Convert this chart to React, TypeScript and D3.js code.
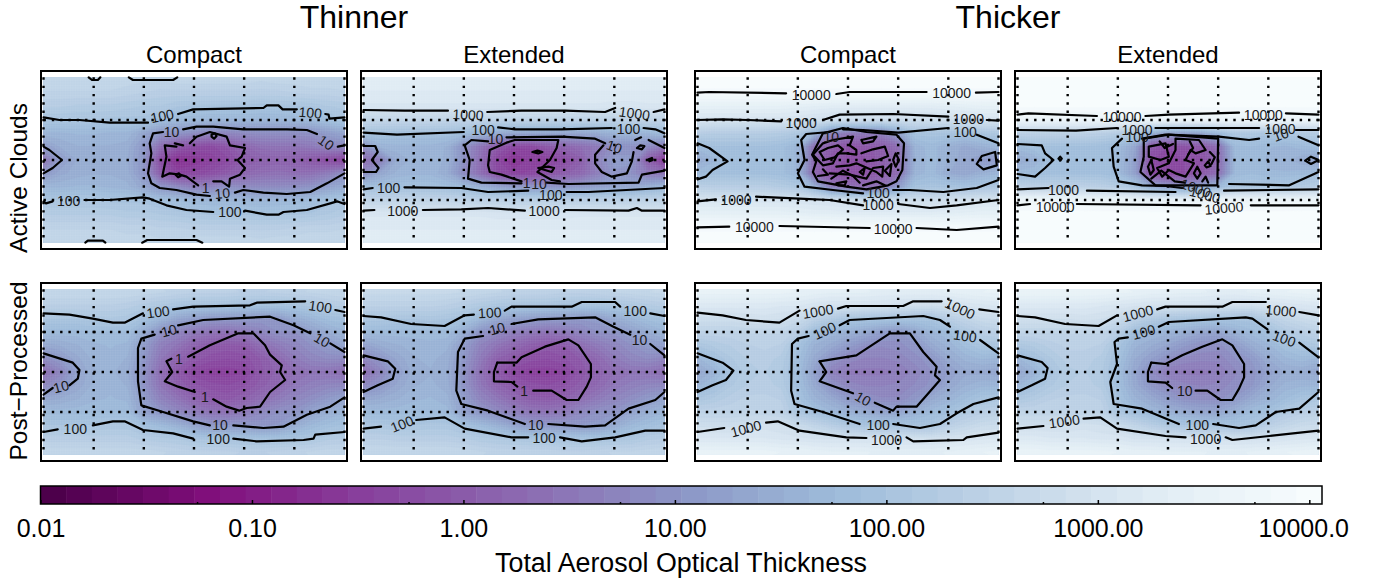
import React, { useEffect, useRef } from 'react';
import * as d3 from 'd3';

type Pt = [number, number];
type Lab = [string, number, number, number];

// grid of the maps, log10 of total aerosol optical thickness per cell
const lons = [-180, -160, -140, -120, -100, -80, -60, -40, -20, 0, 20, 40, 60, 80, 100, 120, 140, 160, 180];
const lats = [60, 50, 40, 30, 20, 10, 0, -10, -20, -30, -40, -50, -60];

const gridLons = [-180, -120, -60, 0, 60, 120, 180];
const gridLats = [30, 0, -30];

const groupTitles = ['Thinner', 'Thicker'];
const columnTitles = ['Compact', 'Extended', 'Compact', 'Extended'];
const rowTitles = ['Active Clouds', 'Post\u2212Processed'];

const rampColors = ['#4d004b', '#810f7c', '#88419d', '#8c6bb1', '#8c96c6', '#9ebcda', '#bfd3e6', '#e0ecf4', '#f7fcfd'];
const majorTicks = [0.01, 0.1, 1, 10, 100, 1000, 10000];
const majorLabels = ['0.01', '0.10', '1.00', '10.00', '100.00', '1000.00', '10000.0'];
const minorTicks = [0.055, 0.55, 5.5, 55, 550, 5500];

const fieldThinCompactActive = [
  [2.6, 2.6, 2.6, 2.6, 2.6, 2.55, 2.5, 2.5, 2.55, 2.55, 2.55, 2.55, 2.55, 2.5, 2.55, 2.55, 2.6, 2.6, 2.6],
  [2.45, 2.45, 2.45, 2.45, 2.45, 2.4, 2.35, 2.3, 2.3, 2.3, 2.3, 2.3, 2.3, 2.3, 2.3, 2.35, 2.4, 2.4, 2.45],
  [2.25, 2.25, 2.2, 2.2, 2.2, 2.15, 2.1, 2.1, 2.0, 1.95, 1.95, 1.95, 1.95, 1.9, 1.95, 1.95, 2.0, 2.1, 2.15],
  [2.0, 2.0, 2.0, 2.0, 1.95, 1.95, 1.95, 1.8, 1.7, 1.65, 1.6, 1.6, 1.6, 1.6, 1.6, 1.65, 1.7, 1.85, 2.0],
  [1.6, 1.6, 1.65, 1.65, 1.6, 1.6, 1.3, 1.0, 0.95, 0.85, 0.7, 0.7, 0.8, 0.85, 0.85, 0.85, 0.9, 1.1, 1.3],
  [1.1, 1.4, 1.5, 1.5, 1.5, 1.45, 1.05, 0.3, -0.1, -0.3, -0.35, -0.15, 0.15, 0.35, 0.4, 0.4, 0.5, 0.7, 0.8],
  [0.4, 1.1, 1.4, 1.45, 1.45, 1.4, 1.0, -0.3, -0.75, -0.65, -0.5, -0.35, -0.05, 0.05, 0.1, 0.05, -0.1, -0.3, -0.45],
  [1.0, 1.35, 1.45, 1.5, 1.5, 1.45, 1.0, 0.0, -0.45, -0.4, -0.25, -0.05, 0.15, 0.3, 0.35, 0.3, 0.35, 0.55, 0.9],
  [1.6, 1.6, 1.65, 1.65, 1.6, 1.55, 1.3, 1.0, 0.8, 0.6, 0.7, 0.9, 0.8, 0.8, 0.8, 0.85, 0.95, 1.2, 1.4],
  [2.0, 2.0, 2.0, 2.0, 1.95, 1.95, 1.95, 1.8, 1.75, 1.65, 1.6, 1.6, 1.6, 1.6, 1.6, 1.65, 1.75, 1.9, 2.0],
  [2.2, 2.2, 2.2, 2.2, 2.2, 2.15, 2.15, 2.1, 2.05, 2.0, 1.95, 1.95, 1.95, 1.9, 1.95, 1.95, 2.0, 2.1, 2.2],
  [2.45, 2.45, 2.45, 2.45, 2.45, 2.4, 2.4, 2.35, 2.35, 2.3, 2.3, 2.3, 2.3, 2.3, 2.3, 2.35, 2.4, 2.4, 2.45],
  [2.6, 2.6, 2.6, 2.6, 2.6, 2.55, 2.55, 2.5, 2.5, 2.55, 2.55, 2.55, 2.55, 2.5, 2.55, 2.55, 2.6, 2.6, 2.6],
];
const fieldThinExtendedActive = [
  [3.25, 3.25, 3.25, 3.25, 3.25, 3.25, 3.25, 3.25, 3.25, 3.25, 3.25, 3.25, 3.25, 3.25, 3.25, 3.25, 3.25, 3.25, 3.25],
  [3.2, 3.2, 3.2, 3.2, 3.2, 3.2, 3.2, 3.2, 3.2, 3.2, 3.2, 3.2, 3.2, 3.2, 3.2, 3.2, 3.2, 3.2, 3.2],
  [3.05, 3.05, 3.05, 3.05, 3.05, 3.05, 3.05, 3.05, 3.05, 3.05, 3.05, 3.05, 3.05, 3.05, 3.05, 3.0, 3.0, 3.05, 3.05],
  [2.55, 2.55, 2.55, 2.55, 2.55, 2.5, 2.5, 2.5, 2.45, 2.45, 2.45, 2.45, 2.45, 2.45, 2.45, 2.45, 2.45, 2.5, 2.5],
  [1.9, 1.9, 1.85, 1.85, 1.85, 1.85, 1.75, 1.55, 1.4, 1.3, 1.3, 1.3, 1.3, 1.3, 1.4, 1.55, 1.6, 1.6, 1.75],
  [0.9, 1.55, 1.6, 1.6, 1.6, 1.5, 0.9, 0.4, -0.1, -0.4, -0.4, -0.1, 0.1, 0.3, 0.5, 0.9, 0.9, 0.8, 0.5],
  [0.3, 0.6, 1.4, 1.55, 1.55, 1.5, 0.9, 0.3, -0.4, -0.7, -0.5, -0.45, -0.3, 0.0, 0.7, 1.1, 1.1, 0.0, -0.6],
  [0.8, 1.3, 1.55, 1.6, 1.6, 1.4, 0.8, 0.3, -0.3, -0.45, -0.4, -0.2, 0.0, 0.2, 0.6, 1.0, 0.9, 0.5, 0.4],
  [1.85, 1.85, 1.85, 1.85, 1.85, 1.8, 1.7, 1.5, 1.3, 1.1, 1.0, 1.0, 1.0, 1.1, 1.2, 1.3, 1.3, 1.5, 1.7],
  [2.5, 2.5, 2.5, 2.5, 2.5, 2.5, 2.45, 2.4, 2.4, 2.35, 2.35, 2.35, 2.35, 2.35, 2.35, 2.4, 2.4, 2.45, 2.5],
  [3.05, 3.05, 3.05, 3.05, 3.05, 3.05, 3.05, 3.05, 3.0, 3.0, 3.0, 3.0, 3.0, 3.05, 3.05, 3.05, 3.05, 3.05, 3.05],
  [3.2, 3.2, 3.2, 3.2, 3.2, 3.2, 3.2, 3.2, 3.2, 3.2, 3.2, 3.2, 3.2, 3.2, 3.2, 3.2, 3.2, 3.2, 3.2],
  [3.25, 3.25, 3.25, 3.25, 3.25, 3.25, 3.25, 3.25, 3.25, 3.25, 3.25, 3.25, 3.25, 3.25, 3.25, 3.25, 3.25, 3.25, 3.25],
];
const fieldThickCompactActive = [
  [4.0, 4.0, 4.0, 4.0, 4.0, 4.0, 4.0, 4.0, 4.0, 4.0, 4.0, 4.0, 4.0, 4.0, 4.0, 4.0, 4.0, 4.0, 4.0],
  [3.9, 3.9, 3.9, 3.9, 3.9, 3.9, 3.9, 3.9, 3.9, 3.9, 3.9, 3.9, 3.9, 3.9, 3.9, 3.9, 3.9, 3.9, 3.9],
  [3.4, 3.4, 3.4, 3.4, 3.4, 3.4, 3.35, 3.3, 3.25, 3.25, 3.25, 3.25, 3.25, 3.25, 3.25, 3.3, 3.35, 3.4, 3.4],
  [3.0, 3.0, 3.0, 3.0, 3.0, 3.0, 2.95, 2.9, 2.85, 2.8, 2.8, 2.8, 2.8, 2.8, 2.85, 2.85, 2.9, 3.0, 3.0],
  [2.3, 2.25, 2.25, 2.25, 2.25, 2.2, 2.1, 1.6, 0.7, 0.5, 0.5, 0.6, 1.2, 1.9, 1.95, 1.95, 1.9, 2.0, 2.1],
  [1.7, 1.85, 1.85, 1.85, 1.85, 1.8, 1.6, 0.3, 0.0, -0.2, -0.1, 0.0, 0.3, 1.55, 1.7, 1.5, 1.35, 1.5, 1.6],
  [1.4, 1.6, 1.85, 1.85, 1.85, 1.8, 1.6, 0.2, -0.1, -0.2, -0.2, 0.0, 0.3, 1.5, 1.7, 1.5, 1.3, 1.1, 1.1],
  [1.7, 1.85, 1.85, 1.85, 1.85, 1.8, 1.6, 0.2, -0.2, -0.3, -0.2, 0.0, 0.3, 1.55, 1.7, 1.4, 1.3, 1.5, 1.6],
  [2.35, 2.3, 2.3, 2.3, 2.3, 2.2, 2.1, 1.5, 0.6, 0.4, 0.3, 0.4, 1.1, 1.9, 1.95, 1.95, 1.9, 2.0, 2.1],
  [3.0, 3.0, 3.0, 3.0, 3.0, 3.0, 3.0, 2.95, 2.9, 2.85, 2.8, 2.8, 2.8, 2.8, 2.8, 2.85, 2.9, 3.0, 3.0],
  [3.4, 3.4, 3.4, 3.4, 3.4, 3.4, 3.35, 3.3, 3.3, 3.25, 3.25, 3.25, 3.25, 3.25, 3.25, 3.3, 3.35, 3.4, 3.4],
  [3.9, 3.9, 3.9, 3.9, 3.9, 3.9, 3.9, 3.9, 3.9, 3.9, 3.9, 3.9, 3.9, 3.9, 3.9, 3.9, 3.9, 3.9, 3.9],
  [4.0, 4.0, 4.0, 4.0, 4.0, 4.0, 4.0, 4.0, 4.0, 4.0, 4.0, 4.0, 4.0, 4.0, 4.0, 4.0, 4.0, 4.0, 4.0],
];
const fieldThickExtendedActive = [
  [4.0, 4.0, 4.0, 4.0, 4.0, 4.0, 4.0, 4.0, 4.0, 4.0, 4.0, 4.0, 4.0, 4.0, 4.0, 4.0, 4.0, 4.0, 4.0],
  [4.0, 4.0, 4.0, 4.0, 4.0, 4.0, 4.0, 4.0, 4.0, 4.0, 4.0, 4.0, 4.0, 4.0, 4.0, 4.0, 4.0, 4.0, 4.0],
  [3.95, 3.95, 3.95, 3.95, 3.95, 3.95, 3.95, 3.95, 3.95, 3.95, 3.95, 3.95, 3.95, 3.95, 3.95, 3.95, 3.95, 3.95, 3.95],
  [3.6, 3.6, 3.6, 3.6, 3.6, 3.6, 3.6, 3.6, 3.6, 3.6, 3.6, 3.6, 3.6, 3.6, 3.6, 3.6, 3.6, 3.6, 3.6],
  [2.4, 2.4, 2.4, 2.4, 2.4, 2.35, 2.25, 2.1, 1.5, 1.2, 1.2, 1.3, 1.7, 2.1, 2.1, 2.05, 2.05, 2.15, 2.25],
  [1.7, 1.85, 1.85, 1.85, 1.85, 1.8, 1.7, 1.3, -0.1, -0.3, -0.2, -0.1, 0.3, 1.7, 1.75, 1.65, 1.6, 1.7, 1.8],
  [1.4, 1.5, 1.85, 1.85, 1.85, 1.85, 1.7, 1.2, -0.3, -0.35, -0.3, -0.2, 0.2, 1.65, 1.75, 1.6, 1.55, 1.4, 1.2],
  [1.7, 1.75, 1.85, 1.85, 1.85, 1.85, 1.7, 1.2, -0.3, -0.4, -0.3, -0.1, 0.3, 1.65, 1.75, 1.65, 1.65, 1.7, 1.8],
  [2.4, 2.4, 2.4, 2.4, 2.4, 2.35, 2.25, 2.0, 1.4, 1.1, 1.1, 1.3, 1.7, 2.05, 2.05, 2.05, 2.05, 2.15, 2.3],
  [3.65, 3.65, 3.65, 3.65, 3.65, 3.6, 3.6, 3.55, 3.5, 3.5, 3.5, 3.55, 3.6, 3.6, 3.6, 3.6, 3.6, 3.65, 3.65],
  [4.0, 4.0, 4.0, 4.0, 4.0, 4.0, 4.0, 4.0, 4.0, 4.0, 4.0, 4.0, 4.0, 4.0, 4.0, 4.0, 4.0, 4.0, 4.0],
  [4.0, 4.0, 4.0, 4.0, 4.0, 4.0, 4.0, 4.0, 4.0, 4.0, 4.0, 4.0, 4.0, 4.0, 4.0, 4.0, 4.0, 4.0, 4.0],
  [4.0, 4.0, 4.0, 4.0, 4.0, 4.0, 4.0, 4.0, 4.0, 4.0, 4.0, 4.0, 4.0, 4.0, 4.0, 4.0, 4.0, 4.0, 4.0],
];
const fieldThinCompactPost = [
  [2.6, 2.6, 2.6, 2.6, 2.6, 2.6, 2.55, 2.5, 2.45, 2.4, 2.4, 2.4, 2.35, 2.35, 2.4, 2.45, 2.5, 2.55, 2.6],
  [2.35, 2.35, 2.35, 2.35, 2.35, 2.3, 2.2, 2.1, 2.0, 1.95, 1.95, 1.95, 1.9, 1.9, 1.9, 1.95, 2.05, 2.2, 2.3],
  [2.0, 2.0, 2.0, 2.05, 2.1, 2.05, 1.85, 1.6, 1.3, 1.15, 1.05, 1.05, 1.05, 1.0, 1.05, 1.4, 1.6, 1.8, 1.85],
  [1.7, 1.7, 1.7, 1.75, 1.75, 1.75, 1.4, 0.9, 0.7, 0.5, 0.4, 0.35, 0.5, 0.7, 0.9, 0.9, 1.2, 1.4, 1.6],
  [1.3, 1.4, 1.5, 1.6, 1.65, 1.6, 1.1, 0.6, 0.4, 0.1, -0.05, -0.1, -0.05, 0.3, 0.5, 0.7, 0.9, 1.1, 1.3],
  [0.8, 1.05, 1.35, 1.55, 1.6, 1.5, 1.0, 0.45, 0.1, -0.1, -0.25, -0.3, -0.25, -0.05, 0.2, 0.5, 0.7, 0.8, 0.8],
  [0.3, 0.7, 1.2, 1.5, 1.55, 1.4, 0.9, 0.3, -0.1, -0.4, -0.5, -0.5, -0.45, -0.1, 0.1, 0.3, 0.4, 0.4, 0.3],
  [0.75, 1.0, 1.3, 1.55, 1.6, 1.5, 0.95, 0.4, 0.05, -0.15, -0.25, -0.3, -0.2, 0.0, 0.2, 0.45, 0.6, 0.7, 0.75],
  [1.3, 1.4, 1.5, 1.6, 1.65, 1.6, 1.1, 0.65, 0.4, 0.1, -0.05, -0.1, 0.05, 0.3, 0.5, 0.7, 0.85, 1.05, 1.25],
  [1.7, 1.7, 1.7, 1.75, 1.75, 1.75, 1.2, 1.0, 0.75, 0.55, 0.4, 0.35, 0.5, 0.75, 0.9, 0.95, 1.25, 1.45, 1.6],
  [2.0, 2.0, 2.0, 2.0, 2.05, 2.05, 1.85, 1.7, 1.5, 1.25, 1.05, 1.05, 1.05, 1.0, 1.05, 1.4, 1.65, 1.8, 1.9],
  [2.3, 2.3, 2.3, 2.3, 2.3, 2.3, 2.2, 2.15, 2.1, 2.0, 1.95, 1.95, 1.9, 1.9, 1.9, 1.95, 2.05, 2.2, 2.25],
  [2.55, 2.55, 2.55, 2.55, 2.55, 2.55, 2.55, 2.5, 2.45, 2.4, 2.4, 2.4, 2.35, 2.35, 2.4, 2.45, 2.5, 2.55, 2.55],
];
const fieldThinExtendedPost = [
  [2.65, 2.65, 2.65, 2.65, 2.65, 2.65, 2.6, 2.55, 2.5, 2.45, 2.45, 2.45, 2.4, 2.4, 2.45, 2.5, 2.55, 2.6, 2.65],
  [2.4, 2.4, 2.4, 2.4, 2.4, 2.35, 2.25, 2.15, 2.05, 2.0, 2.0, 2.0, 1.95, 1.95, 1.95, 2.0, 2.1, 2.2, 2.3],
  [2.05, 2.05, 2.0, 2.0, 2.05, 2.0, 1.9, 1.65, 1.35, 1.2, 1.15, 1.1, 1.1, 1.05, 1.1, 1.4, 1.6, 1.8, 1.9],
  [1.7, 1.7, 1.7, 1.7, 1.7, 1.7, 1.45, 0.95, 0.75, 0.6, 0.5, 0.4, 0.5, 0.7, 0.9, 0.95, 1.2, 1.4, 1.6],
  [1.2, 1.4, 1.5, 1.55, 1.6, 1.55, 1.1, 0.65, 0.4, 0.2, 0.0, -0.1, -0.05, 0.3, 0.5, 0.7, 0.9, 1.1, 1.2],
  [0.7, 1.0, 1.3, 1.5, 1.55, 1.45, 1.0, 0.5, 0.05, -0.1, -0.25, -0.3, -0.2, -0.05, 0.2, 0.5, 0.7, 0.8, 0.7],
  [0.3, 0.7, 1.15, 1.45, 1.5, 1.4, 0.9, 0.35, -0.1, -0.4, -0.5, -0.5, -0.45, -0.15, 0.1, 0.3, 0.4, 0.4, 0.3],
  [0.75, 1.0, 1.3, 1.5, 1.55, 1.45, 0.95, 0.45, 0.1, -0.1, -0.25, -0.3, -0.2, 0.0, 0.2, 0.45, 0.6, 0.7, 0.75],
  [1.3, 1.4, 1.5, 1.6, 1.65, 1.55, 1.1, 0.7, 0.45, 0.2, 0.0, -0.05, 0.05, 0.3, 0.5, 0.7, 0.85, 1.05, 1.25],
  [1.7, 1.7, 1.7, 1.75, 1.75, 1.7, 1.2, 1.0, 0.8, 0.6, 0.45, 0.4, 0.5, 0.75, 0.9, 0.95, 1.25, 1.45, 1.6],
  [2.05, 2.05, 2.0, 2.0, 2.05, 2.05, 1.85, 1.7, 1.5, 1.25, 1.1, 1.05, 1.05, 1.05, 1.1, 1.4, 1.65, 1.8, 1.95],
  [2.35, 2.35, 2.3, 2.3, 2.3, 2.3, 2.25, 2.15, 2.1, 2.05, 2.0, 2.0, 1.95, 1.95, 1.95, 2.0, 2.05, 2.2, 2.25],
  [2.6, 2.6, 2.6, 2.6, 2.6, 2.6, 2.55, 2.5, 2.45, 2.45, 2.45, 2.45, 2.4, 2.4, 2.45, 2.5, 2.5, 2.55, 2.6],
];
const fieldThickCompactPost = [
  [3.5, 3.5, 3.5, 3.5, 3.5, 3.5, 3.45, 3.4, 3.35, 3.35, 3.35, 3.3, 3.3, 3.3, 3.3, 3.35, 3.4, 3.45, 3.5],
  [3.15, 3.15, 3.15, 3.15, 3.15, 3.1, 3.1, 3.0, 2.95, 2.95, 2.95, 2.95, 2.9, 2.85, 2.85, 2.9, 3.0, 3.05, 3.1],
  [2.8, 2.8, 2.8, 2.85, 2.9, 2.85, 2.7, 2.4, 2.2, 2.0, 1.95, 1.95, 1.95, 1.95, 1.95, 2.3, 2.5, 2.7, 2.75],
  [2.45, 2.45, 2.45, 2.5, 2.5, 2.5, 2.3, 1.75, 1.6, 1.5, 1.35, 1.15, 1.0, 1.3, 1.6, 1.75, 2.1, 2.3, 2.4],
  [2.0, 2.15, 2.25, 2.35, 2.4, 2.35, 1.9, 1.5, 1.35, 1.1, 0.9, 0.8, 0.85, 1.0, 1.35, 1.55, 1.8, 2.0, 2.05],
  [1.6, 1.85, 2.1, 2.25, 2.3, 2.2, 1.8, 1.35, 0.95, 0.75, 0.65, 0.65, 0.7, 0.85, 1.0, 1.35, 1.55, 1.65, 1.6],
  [1.3, 1.55, 1.95, 2.2, 2.25, 2.15, 1.75, 1.2, 0.65, 0.5, 0.5, 0.5, 0.55, 0.7, 0.9, 1.15, 1.35, 1.35, 1.3],
  [1.6, 1.8, 2.1, 2.25, 2.3, 2.2, 1.8, 1.35, 0.9, 0.75, 0.65, 0.65, 0.7, 0.8, 0.95, 1.3, 1.5, 1.6, 1.6],
  [2.0, 2.15, 2.3, 2.4, 2.4, 2.35, 1.9, 1.55, 1.35, 1.05, 0.9, 0.8, 0.8, 1.0, 1.35, 1.55, 1.75, 1.95, 2.05],
  [2.45, 2.45, 2.45, 2.5, 2.5, 2.45, 2.05, 1.85, 1.65, 1.5, 1.4, 1.25, 1.25, 1.5, 1.7, 1.85, 2.15, 2.3, 2.4],
  [2.8, 2.8, 2.8, 2.85, 2.9, 2.85, 2.7, 2.5, 2.3, 2.1, 1.95, 1.95, 1.95, 1.95, 2.0, 2.35, 2.55, 2.7, 2.75],
  [3.1, 3.1, 3.1, 3.1, 3.1, 3.05, 3.0, 2.95, 2.95, 2.95, 2.95, 2.95, 2.9, 2.9, 2.9, 2.95, 3.0, 3.05, 3.1],
  [3.5, 3.5, 3.5, 3.5, 3.5, 3.45, 3.45, 3.4, 3.35, 3.35, 3.35, 3.3, 3.3, 3.3, 3.3, 3.35, 3.4, 3.45, 3.5],
];
const fieldThickExtendedPost = [
  [3.55, 3.55, 3.55, 3.55, 3.55, 3.55, 3.5, 3.45, 3.4, 3.4, 3.35, 3.35, 3.3, 3.3, 3.35, 3.4, 3.45, 3.5, 3.55],
  [3.15, 3.15, 3.15, 3.15, 3.15, 3.1, 3.05, 3.0, 2.95, 2.95, 2.95, 2.95, 2.9, 2.85, 2.85, 2.95, 3.0, 3.05, 3.1],
  [2.85, 2.85, 2.85, 2.85, 2.9, 2.85, 2.7, 2.4, 2.2, 2.05, 2.0, 1.95, 1.95, 1.95, 1.95, 2.3, 2.55, 2.7, 2.8],
  [2.5, 2.5, 2.5, 2.5, 2.5, 2.5, 2.3, 1.8, 1.65, 1.55, 1.45, 1.3, 1.25, 1.5, 1.7, 1.85, 2.15, 2.3, 2.45],
  [2.05, 2.15, 2.3, 2.4, 2.4, 2.35, 1.95, 1.55, 1.4, 1.25, 1.05, 0.9, 0.85, 1.1, 1.4, 1.6, 1.85, 2.0, 2.1],
  [1.6, 1.85, 2.1, 2.3, 2.3, 2.2, 1.85, 1.4, 1.15, 0.9, 0.75, 0.7, 0.7, 0.9, 1.05, 1.4, 1.6, 1.7, 1.6],
  [1.3, 1.55, 1.95, 2.2, 2.25, 2.15, 1.75, 1.3, 0.8, 0.55, 0.5, 0.5, 0.55, 0.75, 0.95, 1.2, 1.4, 1.4, 1.3],
  [1.6, 1.85, 2.1, 2.25, 2.3, 2.2, 1.8, 1.35, 1.0, 0.8, 0.7, 0.65, 0.7, 0.85, 1.0, 1.35, 1.55, 1.6, 1.6],
  [2.05, 2.2, 2.35, 2.4, 2.4, 2.35, 1.9, 1.55, 1.35, 1.1, 0.9, 0.85, 0.85, 1.05, 1.35, 1.55, 1.75, 1.95, 2.05],
  [2.5, 2.5, 2.5, 2.5, 2.5, 2.45, 2.05, 1.85, 1.65, 1.5, 1.4, 1.3, 1.3, 1.5, 1.75, 1.85, 2.15, 2.3, 2.4],
  [2.85, 2.85, 2.85, 2.85, 2.9, 2.85, 2.7, 2.5, 2.3, 2.1, 2.0, 1.95, 1.95, 1.95, 2.0, 2.35, 2.55, 2.7, 2.75],
  [3.15, 3.15, 3.1, 3.1, 3.1, 3.05, 3.05, 2.95, 2.95, 2.95, 2.95, 2.95, 2.9, 2.9, 2.9, 2.95, 3.0, 3.05, 3.1],
  [3.55, 3.55, 3.5, 3.5, 3.5, 3.5, 3.45, 3.4, 3.4, 3.35, 3.35, 3.35, 3.3, 3.3, 3.35, 3.4, 3.45, 3.5, 3.55],
];

// isolines, [lon, lat], broken where the label sits
const linesThinCompactActive: Pt[][] = [
  [[-126, 62], [-122, 60], [-115, 60], [-112, 62]],
  [[-78, 62], [-73, 60], [-25, 60], [-20, 62]],
  [[-130, -62], [-127, -60.5], [-109, -60.5], [-106, -62]],
  [[-62, -62], [-56, -60], [3, -60], [10, -62]],
  [[-180, 32], [-161, 30], [-137, 30], [-101, 28], [-55, 28]],
  [[-19, 34.5], [-1, 38], [83, 39], [87, 41], [101, 41], [106, 38], [123, 38]],
  [[157, 34.5], [161, 34], [162, 31], [180, 32]],
  [[-180, -31], [-177, -32.5], [-169, -31]],
  [[-131, -30], [-101, -30], [-61, -28], [-53, -29], [-33, -34], [-9, -37.5], [23, -39]],
  [[61, -38], [87, -41], [101, -41], [107, -39], [135, -37.5], [163, -32.5], [171, -31], [180, -33]],
  [[-180, 10], [-173, 7.5], [-158, 0], [-169, -6], [-180, -10]],
  [[-37, 21], [-49, 20], [-53, 12.5], [-51, 5], [-55, -10], [-51, -17.5], [-41, -21], [-21, -22.5], [3, -26], [19, -27]],
  [[49, -24.5], [59, -22.5], [83, -24.5], [111, -25.5], [139, -24], [159, -17.5], [180, -10]],
  [[-13, 23], [3, 25], [23, 25], [59, 23], [111, 23], [135, 22.5], [147, 19.5]],
  [[172, 10], [180, 11]],
  [[-23, 12.5], [-13, 11]],
  [[-5, 12.5], [3, 17.5], [19, 21], [39, 17.5], [43, 11], [61, 9], [57, 2.5], [52, 0], [61, -6], [55, -11], [43, -14], [42, -20], [33, -16], [23, -16]],
  [[5, -19], [-9, -12.5], [-17, -11], [-29, -10], [-38, -12.5], [-33, 2.5], [-35, 11], [-21, 10]],
  [[21, 19], [25, 20], [27, 18], [24, 16], [21, 17.5], [21, 19]],
  [[-22, -11], [-18, -10], [-16, -12], [-19, -13], [-22, -11]],
];
const labelsThinCompactActive: Lab[] = [
  ['100', -38, 33, -12], ['100', 139, 35.5, 5], ['10', -27, 21, 0], ['10', 158, 13, 35],
  ['100', -150, -30.5, 0], ['1', 14, -21, 0], ['10', 34, -25, -5], ['100', 43, -39, 0],
];

const linesThinExtendedActive: Pt[][] = [
  [[-180, 37.5], [-131, 37], [-79, 37]],
  [[-32, 36], [9, 37], [61, 37], [109, 36], [121, 39]],
  [[167, 36], [180, 38]],
  [[-180, 20.5], [-140, 19], [-60, 21]],
  [[-19, 24.5], [1, 23], [57, 23], [117, 24]],
  [[155, 24], [169, 23], [180, 20]],
  [[-180, 10.5], [-166, 10.5], [-163, 6], [-170, 0], [-162, -6], [-165, -9], [-180, -9]],
  [[-31, 14], [-51, 15], [-59, 11], [-53, 0], [-55, -14], [-39, -17], [9, -17.5]],
  [[39, -17], [65, -18], [149, -17], [153, -11], [180, -8]],
  [[-9, 17], [57, 17.5], [97, 16], [109, 12.5]],
  [[161, 15], [180, 9]],
  [[107, 11], [97, 4], [97, -2.5], [105, -9], [117, -12.5], [135, -10], [141, -1], [143, 6]],
  [[147, 9], [151, 11], [156, 10.5], [153, 8], [147, 9]],
  [[145, 15], [152, 17]],
  [[161, 0.5], [165, 1.5], [166, 0], [162, -1], [161, 0.5]],
  [[1, 15], [53, 15], [51, 9], [43, 0], [28, -9], [45, -15], [55, -16]],
  [[1, 15], [-9, 13], [-29, 7.5], [-31, -4], [-29, -9], [-15, -11], [9, -16]],
  [[29, -6], [45, -9], [48, -6], [41, -5], [29, -6]],
  [[22, 6], [28, 7], [34, 6], [29, 5], [22, 6]],
  [[-180, -22], [-169, -21]],
  [[-131, -20.5], [-63, -21], [-31, -24], [17, -23]],
  [[63, -24], [89, -24], [180, -21]],
  [[-180, -38], [-167, -37.5]],
  [[-109, -37.5], [-63, -37], [-31, -36], [13, -38]],
  [[61, -37.5], [137, -38], [147, -36], [153, -38], [180, -38]],
];
const labelsThinExtendedActive: Lab[] = [
  ['1000', -55, 34, 3], ['1000', 144, 35, 8], ['100', -37, 22.5, 0], ['100', 137, 23, 0],
  ['10', -22, 16, 0], ['1', 15, -17, 0], ['10', 30, -18, 0], ['100', 44, -26, 0],
  ['10', 120, 10, 20], ['100', -150, -21, 0], ['1000', -133, -38, 0], ['1000', 36, -38, 0],
];

const linesThickCompactActive: Pt[][] = [
  [[-180, 50.5], [-166, 51], [-74, 50]],
  [[-14, 49.5], [2, 51], [94, 51]],
  [[153, 50.5], [180, 51]],
  [[-180, 30], [-150, 30.5], [-120, 30], [-80, 29]],
  [[-30, 30], [-10, 34], [54, 34.5], [120, 32.5]],
  [[166, 30], [180, 29.5]],
  [[-180, 12.5], [-166, 9], [-144, -1], [-162, -7.5], [-170, -12.5], [-180, -14.5]],
  [[-22, 21], [-50, 19.5], [-56, 15], [-52, 0], [-60, -10], [-52, -20], [-18, -22.5], [18, -25]],
  [[-6, 23], [18, 22.5], [60, 20.5], [120, 24]],
  [[154, 19], [180, 12.5]],
  [[54, -22.5], [74, -22.5], [114, -24], [154, -21], [180, -15]],
  [[-180, -31], [-158, -29.5]],
  [[-110, -27.5], [-58, -29], [-22, -30], [18, -34]],
  [[60, -33], [98, -36], [130, -34], [180, -30]],
  [[-180, -50.5], [-142, -50]],
  [[-82, -49.5], [26, -51]],
  [[82, -51], [130, -52.5], [180, -50]],
  [[-43, 4], [-36, 12.5], [-30, 20], [-6, 24], [22, 21], [58, 19], [67, 12.5], [65, -7.5], [58, -16], [48, -19], [22, -22], [-2, -20], [-36, -16], [-42, -9], [-38, -1], [-43, 4]],
  [[-30, 12.5], [-18, 15], [6, 17.5], [2, 11], [10, 7.5], [10, 4], [-2, 5], [-12, 5], [-18, -2.5], [-30, -4], [-42, 4], [-30, 12.5]],
  [[16, 15], [34, 17.5], [30, 14], [18, 12.5], [16, 15]],
  [[-22, -10], [2, -11], [22, -14], [30, -6], [42, -5], [41, -12.5], [34, -9], [10, -2.5], [2, -4], [-14, -5]],
  [[-14, -17.5], [-2, -16], [-4, -19], [-12, -19], [-14, -17.5]],
  [[18, -19], [34, -16], [44, -19]],
  [[14, -9], [20, -6], [18, -11], [14, -9]],
  [[54, 0], [57, 5], [61, 0], [57, -5], [54, 0]],
  [[154, -3], [160, 3], [176, 6], [178, -4], [162, -7], [154, -3]],
  [[-34, 6], [-24, 9], [-12, 11], [-6, 8], [-16, 2], [-28, 0], [-34, 6]],
  [[16, 5], [30, 8], [44, 10], [48, 3], [36, 0], [22, -1]],
  [[-20, -14], [-6, -8], [6, -12], [14, -17]],
  [[44, -8], [52, -3], [50, -12], [44, -8]],
  [[-30, -7], [-24, -11], [-36, -12]],
];
const labelsThickCompactActive: Lab[] = [
  ['10000', -44, 49, 0], ['10000', 124, 50.5, 0], ['1000', -56, 28, 0], ['1000', 144, 31, 0],
  ['10', -20, 17.5, 0], ['100', 140, 21, 0], ['100', 36, -24.5, 0], ['1000', -134, -30, 0],
  ['1000', 36, -34, 0], ['10000', -112, -50.5, 0], ['10000', 54, -52, 0],
];

const linesThickExtendedActive: Pt[][] = [
  [[-180, 34], [-167, 35], [-85, 33]],
  [[-27, 33], [1, 34], [85, 35.5]],
  [[141, 35], [180, 34]],
  [[-180, 22.5], [-110, 22], [-61, 24]],
  [[-15, 24], [109, 24]],
  [[153, 22.5], [180, 22.5]],
  [[-55, 16], [-67, 9], [-65, -5], [-59, -16], [-31, -19], [-3, -19.5], [17, -21]],
  [[-31, 16], [-3, 19], [61, 17.5], [97, 15], [109, 16]],
  [[73, -18], [145, -19], [180, -9]],
  [[156, 17.5], [180, 11]],
  [[-180, 12], [-151, 11], [-147, 5], [-137, 0], [-147, -6], [-159, -12.5], [-180, -10.5]],
  [[-131, 1], [-129, 2.5], [-127, 1], [-129, -0.5], [-131, 1]],
  [[-29, 16], [-29, 2.5], [-33, -9], [-15, -19], [59, -19], [60, 16], [1, 19], [-29, 16]],
  [[-23, 10], [-3, 12.5], [1, 2.5], [-9, 0], [-23, 2.5], [-23, 10]],
  [[-24, -5], [-20, 0], [-17, -7.5], [-21, -11], [-24, -5]],
  [[31, -10], [35, -5], [39, -10], [35, -14], [31, -10]],
  [[44, -4], [48, -1], [51, -4.5], [46, -5.5], [44, -4]],
  [[9, 16], [37, 15], [45, 7.5], [33, 5], [27, 7.5], [21, 0], [31, -2.5], [21, -12.5], [9, -10], [1, -7.5], [-7, -12.5], [-13, -6], [1, -2.5], [9, 7.5], [9, 16]],
  [[41, -16], [45, -12.5], [48, -17]],
  [[164, -0.5], [171, 2.5], [180, 0], [171, -3], [164, -0.5]],
  [[-20, -14], [-8, -8], [8, -16], [20, -17]],
  [[26, 14], [30, 9], [24, 4]],
  [[-10, 14], [-4, 9], [6, 12]],
  [[50, 6], [56, 2], [52, -3]],
  [[-180, -22], [-143, -21]],
  [[-97, -23], [9, -24]],
  [[67, -23], [180, -22]],
  [[-180, -34], [-165, -33]],
  [[-109, -33], [39, -34]],
  [[99, -34], [180, -34]],
];
const labelsThickExtendedActive: Lab[] = [
  ['10000', -55, 32, 0], ['10000', 114, 34, 0], ['1000', -37, 22.5, 0], ['1000', 134, 23, 0],
  ['100', -37, 17, 0], ['10', 135, 19, -20], ['1000', -125, -22.5, 0], ['1000', 33, -21, 20],
  ['1000', 44, -26, 15], ['10000', -135, -35, 0], ['10000', 67, -36, -5],
];

const linesThinCompactPost: Pt[][] = [
  [[-180, 44], [-149, 43], [-121, 40], [-97, 37], [-83, 37], [-61, 44]],
  [[-25, 47], [-1, 49], [67, 50], [75, 52], [133, 53]],
  [[169, 46.5], [180, 45]],
  [[-47, 28], [-63, 25], [-67, 18], [-67, -7], [-63, -25], [-37, -30], [-1, -37], [19, -40]],
  [[47, -40], [83, -42], [107, -41], [135, -32], [163, -26], [180, -19]],
  [[-19, 35], [11, 39], [91, 41.5], [119, 35], [139, 29]],
  [[163, 21.5], [180, 15]],
  [[-180, 14], [-145, 7], [-137, 1.5], [-139, -5], [-149, -10]],
  [[-180, -17], [-169, -12]],
  [[-7, 11.5], [19, 20], [53, 29], [71, 29], [85, 20], [91, 13], [105, 5], [103, 0], [109, -6], [91, -15], [79, -26], [63, -27], [54, -29], [39, -26], [23, -20.5]],
  [[1, -15], [-19, -11], [-35, -7], [-26, 0], [-33, 8], [-27, 10]],
  [[-180, -45], [-163, -43]],
  [[-121, -40], [-97, -37], [-83, -37], [-61, -43.5], [-25, -46], [-1, -50]],
  [[47, -50], [75, -52], [131, -51], [143, -50], [145, -47], [180, -45]],
];
const labelsThinCompactPost: Lab[] = [
  ['100', -43, 45, -8], ['100', 151, 49, 8], ['10', -30, 31, -15], ['10', 153, 24, 30],
  ['10', 31, -40, 0], ['10', -159, -11, -15], ['1', -18, 10, 0], ['1', 13, -19, 0],
  ['100', -142, -43, 0], ['100', 29, -50, 0],
];

const linesThinExtendedPost: Pt[][] = [
  [[-180, 42], [-159, 41], [-123, 36], [-83, 34.5], [-59, 42.5], [-48, 43]],
  [[-11, 46], [-3, 49], [69, 49], [81, 52.5], [121, 52.5], [127, 49]],
  [[163, 44], [180, 42]],
  [[-37, 27], [-59, 25], [-67, 15], [-69, -14], [-63, -24], [-31, -29], [13, -39]],
  [[-3, 36], [29, 39.5], [97, 41], [119, 34], [139, 28]],
  [[163, 21], [180, 12.5]],
  [[41, -39], [85, -41], [109, -40], [137, -27.5], [169, -21], [180, -15]],
  [[-180, 12.5], [-151, 8], [-142, 2.5], [-145, -5], [-163, -10], [-180, -15]],
  [[-20, 7], [3, 7], [9, 11], [37, 19], [65, 24.5], [77, 20], [92, 6], [92, -4], [87, -11], [77, -21], [63, -21], [45, -14], [23, -14]],
  [[-20, 7], [-24, 0], [-24, -7], [-3, -7.5], [4, -11]],
  [[-180, -42.5], [-159, -41]],
  [[-117, -36], [-83, -34], [-59, -42.5], [-3, -49], [17, -49]],
  [[55, -49], [81, -52], [121, -49], [157, -44], [180, -44]],
];
const labelsThinExtendedPost: Lab[] = [
  ['100', -29, 44.5, -3], ['100', 145, 46, 0], ['10', -20, 32.5, -15], ['10', 150, 24, 0],
  ['10', 26, -40, 0], ['1', 12, -14, 0], ['100', -134, -39, -22], ['100', 36, -49.5, 0],
];

const linesThickCompactPost: Pt[][] = [
  [[-180, 44.5], [-150, 42.5], [-122, 39], [-82, 37], [-58, 46]],
  [[-12, 47.5], [-2, 49.5], [66, 49.5], [78, 53], [112, 53]],
  [[157, 47], [180, 45]],
  [[-47, 27], [-60, 25], [-67, 21], [-68, -14], [-64, -24], [-30, -30], [14, -39]],
  [[-10, 35], [2, 39], [90, 42], [110, 39], [122, 34]],
  [[158, 24], [180, 14]],
  [[54, -39], [86, -42], [110, -39], [130, -31], [150, -24], [180, -19]],
  [[-180, 14], [-150, 7], [-137, 1], [-146, -6], [-162, -10], [-180, -15]],
  [[-34, 8], [10, 12.5], [50, 29], [74, 29], [90, 15], [106, 4], [104, -2.5], [110, -6], [82, -26], [58, -26], [54, -29], [32, -23]],
  [[6, -16], [-34, -7], [-26, 0], [-34, 8]],
  [[-180, -45], [-148, -42]],
  [[-98, -38], [-84, -37], [-58, -44], [-2, -49], [22, -49.5]],
  [[70, -49], [78, -52], [138, -51], [142, -49], [180, -45.5]],
];
const labelsThickCompactPost: Lab[] = [
  ['1000', -36, 45.5, -10], ['1000', 134, 47.5, 25], ['100', -28, 31, -25], ['100', 140, 27, 8],
  ['100', 36, -40, 0], ['10', 18, -20, 30], ['1000', -122, -42.5, -15], ['1000', 46, -51, 0],
];

const linesThickExtendedPost: Pt[][] = [
  [[-180, 42], [-159, 41], [-123, 36], [-83, 34.5], [-61, 42.5]],
  [[-13, 47], [-3, 49], [65, 49], [77, 52.5], [117, 52.5]],
  [[157, 45], [180, 42.5]],
  [[-48, 26], [-59, 25], [-64, 22.5], [-61, 6], [-69, -7.5], [-65, -24], [-31, -27.5], [13, -39]],
  [[-11, 34], [1, 37.5], [93, 41], [101, 40], [119, 32]],
  [[157, 22], [180, 11]],
  [[54, -39], [85, -42], [105, -40], [129, -30], [157, -27.5], [180, -15]],
  [[-180, 12.5], [-151, 7.5], [-144, 3], [-147, -5], [-163, -10], [-180, -15]],
  [[-20, 7], [-3, 6], [17, 12.5], [41, 19], [65, 24.5], [77, 20], [91, 6], [91, -4], [85, -12.5], [77, -21], [63, -21], [47, -14], [33, -14]],
  [[-20, 7], [-24, 0], [-24, -7], [-3, -8], [5, -12]],
  [[-180, -42.5], [-149, -40.5]],
  [[-101, -35], [-81, -34], [-61, -42.5], [-3, -48], [21, -49]],
  [[69, -49], [77, -51], [121, -48], [180, -44]],
];
const labelsThickExtendedPost: Lab[] = [
  ['1000', -36, 44, -15], ['1000', 135, 46, 5], ['100', -29, 30, -15], ['100', 139, 25, 20],
  ['100', 35, -40, 0], ['10', 20, -14.5, 0], ['1000', -124, -37, -8], ['1000', 45, -50, 0],
];

const panels = [
  { col: 0, row: 0, field: fieldThinCompactActive, lines: linesThinCompactActive, labels: labelsThinCompactActive },
  { col: 1, row: 0, field: fieldThinExtendedActive, lines: linesThinExtendedActive, labels: labelsThinExtendedActive },
  { col: 2, row: 0, field: fieldThickCompactActive, lines: linesThickCompactActive, labels: labelsThickCompactActive },
  { col: 3, row: 0, field: fieldThickExtendedActive, lines: linesThickExtendedActive, labels: labelsThickExtendedActive },
  { col: 0, row: 1, field: fieldThinCompactPost, lines: linesThinCompactPost, labels: labelsThinCompactPost },
  { col: 1, row: 1, field: fieldThinExtendedPost, lines: linesThinExtendedPost, labels: labelsThinExtendedPost },
  { col: 2, row: 1, field: fieldThickCompactPost, lines: linesThickCompactPost, labels: labelsThickCompactPost },
  { col: 3, row: 1, field: fieldThickExtendedPost, lines: linesThickExtendedPost, labels: labelsThickExtendedPost },
];

const FONT = '"Liberation Sans", Arial, sans-serif';
const WIDTH = 1380;
const HEIGHT = 578;
const PANEL_W = 306;
const PANEL_H = 178;
const COL_X = [41, 361, 695, 1015];
const ROW_Y = [71, 283];
const BAR = { x: 40.5, w: 1281.5, y: 486, h: 18, cells: 50, logMin: -2, logMax: 4.06 };

const App = () => {
  const svgRef = useRef<SVGSVGElement | null>(null);

  useEffect(() => {
    if (!svgRef.current) return;
    const svg = d3.select(svgRef.current);
    svg.selectAll('*').remove();

    // fine pale seams that the original's filled polygons leave
    const hatch = svg.append('defs').append('pattern')
      .attr('id', 'seams')
      .attr('patternUnits', 'userSpaceOnUse')
      .attr('width', 2.5)
      .attr('height', 2.5);
    hatch.append('path')
      .attr('d', 'M0 0H2.5M0 0V2.5')
      .attr('stroke', '#fff')
      .attr('stroke-width', 0.5)
      .attr('stroke-opacity', 0.16);

    // colour ramp over the 50 steps of the key
    const logStep = (BAR.logMax - BAR.logMin) / BAR.cells;
    const levels = d3.range(BAR.cells).map(i => BAR.logMin + i * logStep);
    const ramp = d3.scaleLinear<string>()
      .domain(rampColors.map((_, i) => (i * (BAR.cells - 1)) / (rampColors.length - 1)))
      .range(rampColors)
      .interpolate(d3.interpolateRgb);
    const cellColor = (i: number) => ramp(i);

    const contours = d3.contours()
      .size([lons.length, lats.length])
      .thresholds(levels);

    const line = d3.line<Pt>();

    panels.forEach((p, idx) => {
      const px = COL_X[p.col];
      const py = ROW_Y[p.row];
      const x = d3.scaleLinear().domain([-183, 183]).range([px, px + PANEL_W]);
      const y = d3.scaleLinear().domain([66.75, -66.75]).range([py, py + PANEL_H]);
      line.x(d => x(d[0])).y(d => y(d[1]));

      const g = svg.append('g');
      const clipId = `field-${idx}`;
      g.append('clipPath').attr('id', clipId).append('rect')
        .attr('x', x(-180)).attr('width', x(180) - x(-180))
        .attr('y', y(62)).attr('height', y(-62) - y(62));

      // d3.contours puts a cell's value in the middle of the cell
      const dLon = lons[1] - lons[0];
      const dLat = lats[0] - lats[1];
      const toMap = d3.geoTransform({
        point(cx: number, cy: number) {
          (this as any).stream.point(
            x(lons[0] - dLon / 2 + cx * dLon),
            y(lats[0] + dLat / 2 - cy * dLat),
          );
        },
      });
      const path = d3.geoPath(toMap);

      const fieldG = g.append('g').attr('clip-path', `url(#${clipId})`);
      fieldG.selectAll('path')
        .data(contours(p.field.flat()))
        .join('path')
        .attr('d', d => path(d as any))
        .attr('fill', (_, i) => cellColor(i))
        .attr('stroke', (_, i) => cellColor(i))
        .attr('stroke-width', 0.4);
      fieldG.append('rect')
        .attr('x', x(-180)).attr('width', x(180) - x(-180))
        .attr('y', y(62)).attr('height', y(-62) - y(62))
        .attr('fill', 'url(#seams)');

      // dotted lat/lon grid
      g.append('g').selectAll('line').data(gridLons).join('line')
        .attr('x1', d => x(d)).attr('x2', d => x(d))
        .attr('y1', y(62)).attr('y2', y(-62));
      g.append('g').selectAll('line').data(gridLats).join('line')
        .attr('x1', x(-180)).attr('x2', x(180))
        .attr('y1', d => y(d)).attr('y2', d => y(d));
      g.selectAll('line')
        .attr('stroke', '#000')
        .attr('stroke-width', 2.4)
        .attr('stroke-dasharray', '2.4 5.9');

      g.append('g').selectAll('path').data(p.lines).join('path')
        .attr('d', d => line(d))
        .attr('fill', 'none')
        .attr('stroke', '#000')
        .attr('stroke-width', 2.2)
        .attr('stroke-linejoin', 'round')
        .attr('stroke-linecap', 'round');

      g.append('g').selectAll('text').data(p.labels).join('text')
        .attr('transform', d => `translate(${x(d[1])},${y(d[2])}) rotate(${d[3]})`)
        .attr('dy', '0.36em')
        .attr('text-anchor', 'middle')
        .attr('fill', '#1a1a1a')
        .style('font-family', FONT)
        .style('font-size', '14px')
        .text(d => d[0]);

      g.append('rect')
        .attr('x', px).attr('y', py)
        .attr('width', PANEL_W).attr('height', PANEL_H)
        .attr('fill', 'none')
        .attr('stroke', '#000')
        .attr('stroke-width', 2);
    });

    // titles
    const title = (text: string, tx: number, ty: number, size: number, rotate = false) => {
      svg.append('text')
        .attr('transform', `translate(${tx},${ty})${rotate ? ' rotate(-90)' : ''}`)
        .attr('text-anchor', 'middle')
        .attr('fill', '#000')
        .style('font-family', FONT)
        .style('font-size', `${size}px`)
        .text(text);
    };
    groupTitles.forEach((t, i) => title(t, i === 0 ? 354 : 1008, 28, 32));
    columnTitles.forEach((t, i) => title(t, COL_X[i] + PANEL_W / 2, 63, 24));
    title(rowTitles[0], 27, 178, 24.5, true);
    title(rowTitles[1], 27, 371, 24.5, true);

    // colour key
    const barScale = d3.scaleLog()
      .domain([Math.pow(10, BAR.logMin), Math.pow(10, BAR.logMax)])
      .range([BAR.x, BAR.x + BAR.w]);
    const key = svg.append('g');
    key.selectAll('rect').data(levels).join('rect')
      .attr('x', d => barScale(Math.pow(10, d)))
      .attr('y', BAR.y)
      .attr('width', BAR.w / BAR.cells + 0.5)
      .attr('height', BAR.h)
      .attr('fill', (_, i) => cellColor(i));

    key.append('g')
      .attr('transform', `translate(0,${BAR.y + BAR.h})`)
      .call(d3.axisBottom(barScale).tickValues(minorTicks).tickSize(-2).tickFormat(() => ''))
      .call(g => g.select('.domain').remove());

    const axis = key.append('g')
      .attr('transform', `translate(0,${BAR.y + BAR.h})`)
      .call(d3.axisBottom(barScale)
        .tickValues(majorTicks)
        .tickSize(-4)
        .tickPadding(15)
        .tickFormat((_, i) => majorLabels[i]))
      .call(g => g.select('.domain').remove());
    axis.selectAll('text')
      .attr('fill', '#000')
      .style('font-family', FONT)
      .style('font-size', '25px');
    // the last label is pulled in a little in the original
    axis.selectAll('text').filter((_, i) => i === majorLabels.length - 1).attr('x', -6);
    key.selectAll('.tick line').attr('stroke', '#000').attr('stroke-width', 1.5);

    key.append('rect')
      .attr('x', BAR.x).attr('y', BAR.y)
      .attr('width', BAR.w).attr('height', BAR.h)
      .attr('fill', 'none')
      .attr('stroke', '#000')
      .attr('stroke-width', 1.5);

    title('Total Aerosol Optical Thickness', 681, 572, 26.8);
  }, []);

  return (
    <svg
      ref={svgRef}
      width={WIDTH}
      height={HEIGHT}
      style={{ position: 'absolute', left: 0, top: 0, background: '#fff' }}
    />
  );
};

export default App;
